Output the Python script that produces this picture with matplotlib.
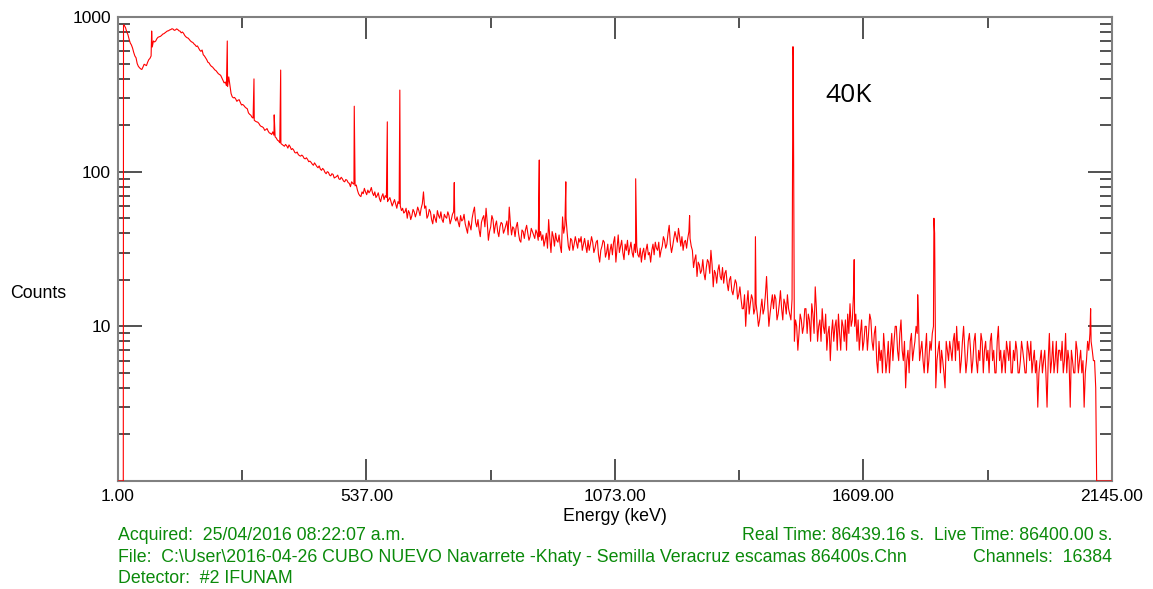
import matplotlib
matplotlib.use("Agg")
import matplotlib.pyplot as plt
import numpy as np
from matplotlib.ticker import LogLocator, FixedLocator, NullFormatter

# gamma spectrum, continuum on a 5 keV grid
grid_start_kev = 15
grid_step_kev = 5
continuum_counts = [
    880, 800, 720, 660, 590, 545, 480, 462, 475, 490, 510, 540, 640, 690, 725, 745, 760, 780, 800, 815,
    830, 835, 825, 830, 810, 800, 760, 735, 715, 690, 670, 645, 630, 600, 570, 545, 510, 490, 475, 455,
    440, 425, 405, 375, 360, 410, 320, 300, 295, 290, 280, 272, 262, 255, 235, 225, 215, 210, 205, 196,
    192, 187, 183, 177, 181, 168, 160, 154, 150, 146, 147, 149, 139, 138, 132, 129, 126, 126, 121, 120,
    117, 112, 114, 108, 109, 102, 103, 97, 99, 94, 96, 92, 95, 89, 90, 86, 88, 84, 86, 83,
    82, 72, 69, 72, 74, 76, 75, 73, 74, 70, 67, 69, 66, 68, 66, 64, 63, 62, 64, 60,
    58, 55, 50, 54, 52, 55, 54, 56, 58, 74, 60, 52, 55, 46, 50, 56, 50, 49, 53, 50,
    52, 49, 55, 48, 47, 52, 49, 46, 40, 45, 50, 59, 44, 42, 47, 52, 58, 36, 44, 49,
    45, 41, 44, 46, 42, 48, 59, 39, 43, 44, 40, 35, 41, 42, 40, 38, 41, 37, 40, 38,
    36, 33, 40, 49, 30, 38, 40, 35, 33, 51, 45, 40, 31, 36, 34, 35, 37, 38, 34, 33,
    36, 34, 35, 32, 36, 26, 33, 35, 30, 27, 34, 35, 26, 39, 33, 30, 34, 36, 32, 30,
    34, 33, 28, 26, 32, 31, 29, 26, 34, 35, 31, 28, 33, 36, 34, 45, 30, 37, 38, 43,
    33, 31, 36, 37, 37, 31, 27, 21, 25, 23, 22, 24, 26, 31, 18, 22, 23, 21, 24, 22,
    19, 20, 17, 18, 19, 16, 15, 13, 10, 17, 14, 15, 13, 12, 11, 15, 13, 21, 10, 14,
    13, 15, 12, 17, 11, 14, 16, 12, 15, 8, 10, 9, 11, 10, 13, 12, 8, 12, 18, 8,
    11, 13, 9, 7, 10, 9, 8, 11, 12, 7, 10, 11, 12, 14, 11, 10, 8, 7, 11, 8,
    10, 9, 11, 7, 10, 5, 6, 5, 7, 6, 5, 9, 8, 10, 6, 11, 6, 4, 7, 8,
    6, 8, 9, 6, 8, 5, 9, 6, 7, 10, 4, 7, 5, 6, 4, 7, 8, 6, 9, 10,
    8, 6, 10, 5, 8, 7, 6, 9, 5, 6, 8, 7, 6, 5, 9, 7, 5, 10, 7, 6,
    5, 7, 8, 5, 6, 7, 5, 8, 6, 5, 7, 8, 6, 5, 3, 6, 5, 7, 3, 9,
    6, 5, 8, 7, 6, 5, 9, 7, 3, 6, 5, 7, 6, 5, 3, 6, 7, 8, 6, 4,
]
# channels half way between the grid points (17.5, 22.5, ... 2107.5 keV)
half_step_counts = [
    850, 770, 680, 630, 560, 500, 470, 458, 495, 485, 530, 560, 700, 700, 740, 750, 775, 790, 812, 825,
    840, 820, 838, 815, 790, 785, 745, 730, 700, 685, 660, 650, 610, 612, 560, 530, 505, 480, 465, 450,
    430, 420, 390, 380, 355, 360, 305, 302, 285, 292, 270, 268, 258, 240, 232, 222, 212, 209, 199, 195,
    185, 190, 178, 174, 172, 165, 158, 152, 148, 150, 142, 145, 141, 133, 134, 127, 128, 122, 123, 116,
    115, 110, 111, 106, 104, 105, 99, 100, 95, 97, 91, 93, 90, 92, 87, 89, 85, 80, 84, 81,
    76, 70, 74, 78, 71, 73, 79, 70, 68, 73, 64, 72, 70, 64, 68, 60, 66, 58, 62, 56,
    54, 58, 56, 49, 57, 51, 59, 52, 62, 58, 50, 57, 49, 53, 47, 52, 55, 47, 51, 55,
    46, 53, 50, 51, 44, 48, 53, 43, 48, 42, 55, 47, 49, 38, 50, 44, 47, 41, 52, 40,
    48, 38, 47, 40, 45, 39, 46, 44, 38, 47, 36, 42, 37, 45, 36, 43, 39, 42, 36, 41,
    39, 36, 32, 37, 41, 33, 36, 39, 30, 40, 50, 33, 37, 31, 38, 32, 35, 31, 37, 30,
    31, 38, 30, 35, 29, 31, 36, 28, 34, 31, 29, 38, 32, 30, 36, 27, 31, 29, 35, 28,
    30, 29, 32, 30, 27, 34, 30, 31, 29, 32, 35, 31, 38, 32, 40, 34, 33, 41, 35, 38,
    38, 35, 32, 41, 33, 24, 29, 26, 22, 27, 20, 27, 22, 25, 23, 19, 25, 20, 19, 23,
    17, 21, 16, 20, 15, 18, 13, 16, 14, 12, 16, 12, 14, 10, 13, 12, 16, 14, 12, 16,
    16, 11, 14, 13, 15, 12, 13, 11, 560, 11, 7, 12, 9, 13, 9, 11, 14, 9, 13, 10,
    8, 10, 12, 9, 6, 11, 10, 7, 9, 11, 8, 7, 9, 10, 16, 12, 11, 9, 7, 10,
    7, 12, 8, 9, 6, 8, 7, 9, 5, 8, 7, 6, 10, 7, 9, 7, 8, 6, 5, 9,
    7, 10, 12, 7, 6, 7, 5, 8, 9, 40, 6, 8, 7, 5, 8, 6, 7, 8, 6, 7,
    5, 8, 7, 6, 9, 5, 8, 6, 7, 9, 5, 8, 7, 8, 6, 5, 8, 6, 5, 7,
    8, 6, 5, 7, 8, 5, 6, 7, 5, 8, 6, 5, 7, 6, 5, 7, 6, 5, 6, 5,
    8, 6, 5, 7, 8, 6, 5, 6, 7, 5, 8, 5, 7, 6, 5, 8, 9, 7, 6,
]

# sharp lines on top of the continuum
peak_energy_kev = [73.7, 236.8, 294.4, 338.0, 352.0, 510.7, 582.0, 609.0, 726.4, 909.8,
                   967.0, 1117.7, 1234.0, 1376.0, 1457.0, 1589.0, 1726.0, 1761.0, 2099.0]
peak_counts = [812, 700, 398, 233, 454, 265, 210, 337, 85, 119,
               86, 90, 52, 38, 643, 27, 16, 50, 13]

# empty channels at both ends (drawn on the bottom axis)
edge_energy_kev = [1.0, 12.5, 13.0, 2112.0, 2145.0]
edge_counts = [1.0, 1.0, 890, 1.0, 1.0]

x_ticks = [1, 537, 1073, 1609, 2145]
x_minor = [269, 805, 1341, 1877]
y_ticks = [1, 10, 100, 1000]
y_tick_labels = ["", "10", "100", "1000"]

grid_energy = grid_start_kev + grid_step_kev * np.arange(len(continuum_counts))
half_energy = grid_energy[:len(half_step_counts)] + grid_step_kev / 2
energy = np.concatenate([grid_energy, half_energy, peak_energy_kev, edge_energy_kev])
counts = np.concatenate([continuum_counts, half_step_counts, peak_counts, edge_counts]).astype(float)
order = np.argsort(energy, kind="stable")
energy, counts = energy[order], counts[order]

plt.rcParams["font.family"] = ["Liberation Sans", "DejaVu Sans"]
fig = plt.figure(figsize=(11.53, 5.89), dpi=100)
ax = fig.add_axes([0.1023, 0.1834, 0.8621, 0.7877])

ax.plot(energy, counts, color="#ff0000", lw=0.8, zorder=3)
ax.set_yscale("log")
ax.set_xlim(1, 2145)
ax.set_ylim(1, 1000)

ax.xaxis.set_major_locator(FixedLocator(x_ticks))
ax.xaxis.set_minor_locator(FixedLocator(x_minor))
ax.set_xticklabels(["%.2f" % v for v in x_ticks])
ax.yaxis.set_major_locator(FixedLocator(y_ticks))
ax.set_yticklabels(y_tick_labels)
ax.yaxis.set_minor_locator(LogLocator(base=10, subs=np.arange(2, 10)))
ax.yaxis.set_minor_formatter(NullFormatter())

ax.tick_params(which="both", direction="in", top=True, right=True,
               colors="#333333", labelcolor="black", labelsize=12.5)
ax.tick_params(axis="x", which="major", length=16, width=1.2, pad=6)
ax.tick_params(axis="x", which="minor", length=8, width=1.2)
ax.tick_params(axis="y", which="major", length=17, width=1.2, pad=5)
ax.tick_params(axis="y", which="minor", length=8.5, width=1.2)
for s in ax.spines.values():
    s.set_color("#808080")
    s.set_linewidth(1.5)

ax.set_xlabel("Energy (keV)", fontsize=12.8, labelpad=3)
fig.text(0.009, 0.502, "Counts", fontsize=12.8, va="center", ha="left")

ax.text(1526, 310, "40K", fontsize=19, family=["Open Sans", "DejaVu Sans"],
        va="center", ha="left")

green = "#0a8a0a"
fs = 12.8
fig.text(0.1023, 0.090, "Acquired:  25/04/2016 08:22:07 a.m.", color=green, fontsize=fs, va="center")
fig.text(0.9644, 0.090, "Real Time: 86439.16 s.  Live Time: 86400.00 s.", color=green,
         fontsize=fs, va="center", ha="right")
fig.text(0.1023, 0.054,
         "File:  C:\\User\\2016-04-26 CUBO NUEVO Navarrete -Khaty - Semilla Veracruz escamas 86400s.Chn",
         color=green, fontsize=fs, va="center")
fig.text(0.9644, 0.054, "Channels:  16384", color=green, fontsize=fs, va="center", ha="right")
fig.text(0.1023, 0.018, "Detector:  #2 IFUNAM", color=green, fontsize=fs, va="center")

fig.savefig("out.png", dpi=100)
